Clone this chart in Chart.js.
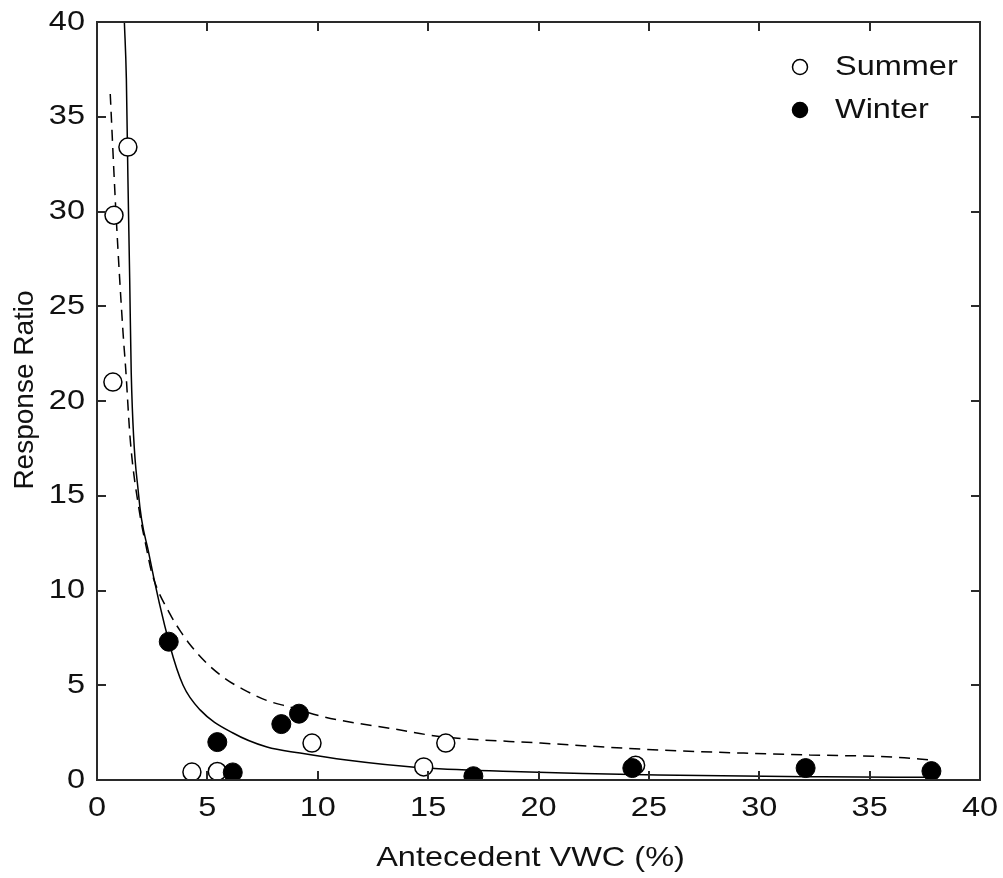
<!DOCTYPE html>
<html>
<head>
<meta charset="utf-8">
<script src="https://cdn.jsdelivr.net/npm/chart.js@4.4.1/dist/chart.umd.min.js"></script>
<style>
  html, body { margin: 0; padding: 0; background: #fff; }
  #wrap { width: 1003px; height: 878px; }
</style>
</head>
<body>
<div id="wrap"><canvas id="vwc-chart" width="1003" height="878"></canvas></div>
<script>
// 观测点
const summerVWC   = [1.4, 0.77, 0.72, 4.3, 5.45, 9.74, 15.8, 14.8, 24.4];
const summerRatio = [33.4, 29.8, 21.0, 0.42, 0.45, 1.95, 1.95, 0.69, 0.78];
const winterVWC   = [3.25, 5.45, 6.15, 8.35, 9.15, 17.05, 24.25, 32.1, 37.8];
const winterRatio = [7.3, 2.0, 0.4, 2.95, 3.5, 0.2, 0.63, 0.63, 0.47];

// 拟合曲线（实线 / 虚线）
const fitSolidX = [1.24, 1.33, 1.40, 1.48, 1.55, 1.88, 2.34, 3.3, 3.9, 4.67, 6.16, 7.7, 9.2, 11.3, 14.5, 18.8, 21.6, 25.4, 32.9, 37.9];
const fitSolidY = [40, 37, 31.8, 26.5, 21.5, 15.1, 12.0, 7.1, 5.0, 3.7, 2.48, 1.74, 1.42, 1.05, 0.66, 0.45, 0.36, 0.26, 0.17, 0.14];
const fitDashX = [0.6, 0.86, 1.18, 1.3, 1.51, 1.93, 2.23, 2.49, 3.31, 3.84, 4.21, 4.98, 5.87, 6.6, 7.68, 8.74, 10.2, 11.76, 13.27, 15.5, 20.1, 25.5, 29.3, 32.3, 36.1, 37.8];
const fitDashY = [36.2, 29.9, 23.6, 21.7, 17.9, 14.1, 12.3, 10.9, 8.75, 7.75, 7.15, 6.15, 5.3, 4.8, 4.2, 3.85, 3.35, 3.0, 2.73, 2.3, 1.95, 1.58, 1.42, 1.32, 1.21, 1.05];

const xTicks = [0, 5, 10, 15, 20, 25, 30, 35, 40];
const yTicks = [0, 5, 10, 15, 20, 25, 30, 35, 40];

const toPoints = (xs, ys) => xs.map((x, i) => ({ x: x, y: ys[i] }));

const INK = '#111';
const FONT = "28px 'Liberation Sans', Arial, sans-serif";
const STRETCH = 1.16;   // 横排文字略宽

function wideText(ctx, str, x, y, align, rotate) {
    ctx.save();
    ctx.translate(x, y);
    if (rotate) {
        ctx.rotate(-Math.PI / 2);
    } else {
        ctx.scale(STRETCH, 1);
    }
    ctx.textAlign = align;
    ctx.textBaseline = 'middle';
    ctx.fillText(str, 0, 0);
    ctx.restore();
}

// 四边框 + 朝内的刻度线
const boxTicks = {
    id: 'boxTicks',
    afterDatasetsDraw(chart) {
        const { ctx, chartArea: a, scales } = chart;
        const len = 9;
        ctx.save();
        ctx.strokeStyle = '#2a2a2a';
        ctx.lineWidth = 2;
        ctx.beginPath();
        xTicks.forEach(v => {
            const px = Math.round(scales.x.getPixelForValue(v));
            ctx.moveTo(px, a.bottom); ctx.lineTo(px, a.bottom - len);
            ctx.moveTo(px, a.top); ctx.lineTo(px, a.top + len);
        });
        yTicks.forEach(v => {
            const py = Math.round(scales.y.getPixelForValue(v));
            ctx.moveTo(a.left, py); ctx.lineTo(a.left + len, py);
            ctx.moveTo(a.right, py); ctx.lineTo(a.right - len, py);
        });
        ctx.stroke();
        ctx.strokeRect(a.left, a.top, a.right - a.left, a.bottom - a.top);
        ctx.restore();
    }
};

// 刻度数字、坐标轴标题
const axisText = {
    id: 'axisText',
    afterDraw(chart) {
        const { ctx, chartArea: a, scales } = chart;
        ctx.save();
        ctx.font = FONT;
        ctx.fillStyle = INK;
        xTicks.forEach(v => wideText(ctx, String(v), scales.x.getPixelForValue(v), a.bottom + 28, 'center'));
        yTicks.forEach(v => wideText(ctx, String(v), a.left - 12, scales.y.getPixelForValue(v), 'right'));
        wideText(ctx, 'Antecedent VWC (%)', (a.left + a.right) / 2 - 8, a.bottom + 78, 'center');
        wideText(ctx, 'Response Ratio', 25, 390, 'center', true);
        ctx.restore();
    }
};

// 图例放在绘图区右上角
const cornerLegend = {
    id: 'cornerLegend',
    afterDraw(chart) {
        const { ctx, chartArea: a } = chart;
        const items = [
            { label: 'Summer', fill: '#fff' },
            { label: 'Winter', fill: '#000' }
        ];
        ctx.save();
        ctx.font = FONT;
        items.forEach((it, i) => {
            const cx = a.right - 180;
            const cy = a.top + 45 + i * 43;
            ctx.beginPath();
            ctx.arc(cx, cy, 7.5, 0, Math.PI * 2);
            ctx.fillStyle = it.fill;
            ctx.fill();
            ctx.lineWidth = 1.5;
            ctx.strokeStyle = '#000';
            ctx.stroke();
            ctx.fillStyle = INK;
            wideText(ctx, it.label, cx + 35, cy, 'left');
        });
        ctx.restore();
    }
};

new Chart(document.getElementById('vwc-chart'), {
    type: 'scatter',
    data: {
        datasets: [
            {
                label: 'Winter',
                data: toPoints(winterVWC, winterRatio),
                pointRadius: 9.5,
                pointBackgroundColor: '#000',
                pointBorderColor: '#000',
                pointBorderWidth: 1
            },
            {
                label: 'Summer',
                data: toPoints(summerVWC, summerRatio),
                pointRadius: 9,
                pointBackgroundColor: '#fff',
                pointBorderColor: '#000',
                pointBorderWidth: 1.5
            },
            {
                label: 'fit-solid',
                data: toPoints(fitSolidX, fitSolidY),
                showLine: true,
                pointRadius: 0,
                borderColor: '#000',
                borderWidth: 1.5,
                cubicInterpolationMode: 'monotone'
            },
            {
                label: 'fit-dash',
                data: toPoints(fitDashX, fitDashY),
                showLine: true,
                pointRadius: 0,
                borderColor: '#000',
                borderWidth: 1.5,
                borderDash: [11, 7],
                cubicInterpolationMode: 'monotone'
            }
        ]
    },
    options: {
        responsive: false,
        animation: false,
        layout: { padding: { top: 22, right: 23, left: 0, bottom: 0 } },
        plugins: {
            legend: { display: false },
            tooltip: { enabled: false }
        },
        scales: {
            x: {
                type: 'linear',
                min: 0,
                max: 40,
                afterBuildTicks: s => { s.ticks = xTicks.map(v => ({ value: v })); },
                afterFit: s => { s.height = 98; },
                grid: { display: false, drawTicks: false },
                border: { display: false },
                ticks: { display: false }
            },
            y: {
                min: 0,
                max: 40,
                afterBuildTicks: s => { s.ticks = yTicks.map(v => ({ value: v })); },
                afterFit: s => { s.width = 97; },
                grid: { display: false, drawTicks: false },
                border: { display: false },
                ticks: { display: false }
            }
        }
    },
    plugins: [boxTicks, axisText, cornerLegend]
});
</script>
</body>
</html>
